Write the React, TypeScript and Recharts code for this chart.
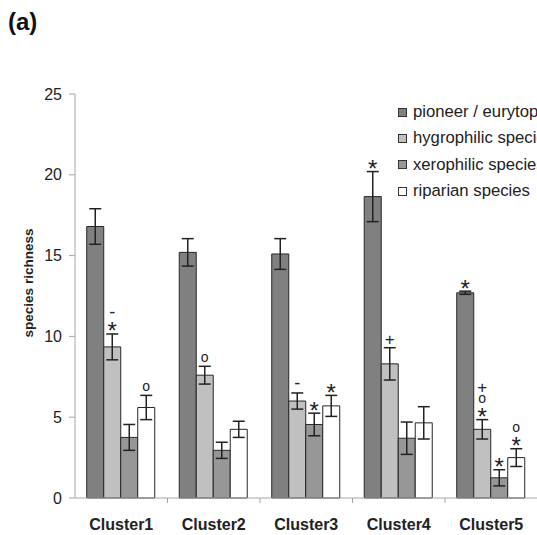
import React from 'react';
import { BarChart, Bar, XAxis, YAxis, ErrorBar, LabelList, Legend } from 'recharts';

const categories = ['Cluster1', 'Cluster2', 'Cluster3', 'Cluster4', 'Cluster5'];
const seriesNames = ['pioneer / eurytopic species', 'hygrophilic species', 'xerophilic species', 'riparian species'];
const pioneer = [16.8, 15.2, 15.1, 18.65, 12.7];
const pioneerErr = [1.1, 0.85, 0.95, 1.55, 0.1];
const hygro = [9.35, 7.6, 6.0, 8.3, 4.25];
const hygroErr = [0.8, 0.55, 0.5, 1.0, 0.6];
const xero = [3.75, 2.95, 4.55, 3.7, 1.25];
const xeroErr = [0.8, 0.5, 0.7, 1.0, 0.5];
const riparian = [5.6, 4.25, 5.7, 4.65, 2.5];
const riparianErr = [0.75, 0.5, 0.65, 1.0, 0.55];
// significance marks, listed from bottom to top
const pioneerMarks = ['', '', '', '*', '*'];
const hygroMarks = ['*-', 'o', '-', '+', '*o+'];
const xeroMarks = ['', '', '*', '', '*'];
const riparianMarks = ['o', '', '*', '', '*o'];
const yTicks = [0, 5, 10, 15, 20, 25];

const FONT = '"Liberation Sans", Arial, sans-serif';
const colors = ['#808080', '#c0c0c0', '#979797', '#ffffff'];

const data = categories.map((c, i) => ({
  name: c,
  pioneer: pioneer[i], pioneerErr: pioneerErr[i], pioneerMark: pioneerMarks[i],
  hygro: hygro[i], hygroErr: hygroErr[i], hygroMark: hygroMarks[i],
  xero: xero[i], xeroErr: xeroErr[i], xeroMark: xeroMarks[i],
  riparian: riparian[i], riparianErr: riparianErr[i], riparianMark: riparianMarks[i],
}));

function Sym({ ch, cx, cy }: { ch: string; cx: number; cy: number }) {
  let fs = 16;
  let dy = 0;
  if (ch === '*') { fs = 24; dy = 14; }
  else if (ch === 'o') { fs = 14; dy = 3.8; }
  else if (ch === '+') { fs = 17; dy = 5.8; }
  else if (ch === '-') { fs = 18; dy = 4.8; }
  return (
    <text x={cx} y={cy + dy} textAnchor="middle" fontSize={fs} fontFamily={FONT} fill="#222">
      {ch}
    </text>
  );
}

const makeMarks = (vals: number[], errs: number[]) => (props: any) => {
  const { x, y, width, height, value, index } = props;
  if (!value) return null;
  const v = vals[index];
  const pxPerUnit = v ? Number(height) / v : 0;
  const errTop = Number(y) - errs[index] * pxPerUnit;
  const cx = Number(x) + Number(width) / 2;
  const chars = String(value).split('');
  return (
    <g>
      {chars.map((ch, k) => (
        <Sym key={k} ch={ch} cx={cx} cy={errTop - 8.5 - k * 12} />
      ))}
    </g>
  );
};

const XTick = (props: any) => {
  const { x, y, payload, index } = props;
  const half = payload && payload.offset ? payload.offset : 46.25;
  return (
    <g>
      {index < categories.length - 1 && (
        <line x1={x + half} x2={x + half} y1={y} y2={y + 5} stroke="#a6a6a6" />
      )}
      <text x={x} y={y + 32} textAnchor="middle" fontSize={16} fontWeight="bold" fontFamily={FONT} fill="#222">
        {payload.value}
      </text>
    </g>
  );
};

const LegendContent = () => (
  <div style={{ fontFamily: FONT, fontSize: 16.7, color: '#222', whiteSpace: 'nowrap' }}>
    {seriesNames.map((n, i) => (
      <div key={n} style={{ height: 26.4, lineHeight: '26.4px', display: 'flex', alignItems: 'center' }}>
        <span style={{ display: 'inline-block', width: 7, height: 7, background: colors[i], border: '1px solid #333', marginRight: 6 }} />
        <span>{n}</span>
      </div>
    ))}
  </div>
);

export default function App() {
  return (
    <div style={{ position: 'fixed', left: 0, top: 0, width: 537, height: 535, overflow: 'hidden', background: '#fff' }}>
      <BarChart
        width={600}
        height={535}
        data={data}
        margin={{ top: 94, right: 62.5, bottom: 7, left: 0 }}
        barCategoryGap="12.7%"
        barGap={0}
      >
        <XAxis
          dataKey="name"
          height={30}
          axisLine={{ stroke: '#a6a6a6' }}
          tickLine={false}
          tickSize={0}
          tickMargin={0}
          interval={0}
          tick={<XTick />}
        />
        <YAxis
          width={75}
          domain={[0, 25]}
          ticks={yTicks}
          interval={0}
          axisLine={{ stroke: '#a6a6a6' }}
          tickLine={{ stroke: '#a6a6a6' }}
          tickSize={6}
          tickMargin={7}
          tick={{ fill: '#222', fontSize: 16, fontFamily: FONT }}
        />
        <Legend
          layout="vertical"
          align="center"
          verticalAlign="middle"
          content={<LegendContent />}
          wrapperStyle={{ position: 'absolute', left: 398, top: 99, width: 300 }}
        />
        <Bar dataKey="pioneer" name={seriesNames[0]} fill={colors[0]} stroke="#262626" strokeWidth={1} isAnimationActive={false}>
          <ErrorBar dataKey="pioneerErr" width={6} stroke="#222" strokeWidth={1.5} />
          <LabelList dataKey="pioneerMark" content={makeMarks(pioneer, pioneerErr)} />
        </Bar>
        <Bar dataKey="hygro" name={seriesNames[1]} fill={colors[1]} stroke="#262626" strokeWidth={1} isAnimationActive={false}>
          <ErrorBar dataKey="hygroErr" width={6} stroke="#222" strokeWidth={1.5} />
          <LabelList dataKey="hygroMark" content={makeMarks(hygro, hygroErr)} />
        </Bar>
        <Bar dataKey="xero" name={seriesNames[2]} fill={colors[2]} stroke="#262626" strokeWidth={1} isAnimationActive={false}>
          <ErrorBar dataKey="xeroErr" width={6} stroke="#222" strokeWidth={1.5} />
          <LabelList dataKey="xeroMark" content={makeMarks(xero, xeroErr)} />
        </Bar>
        <Bar dataKey="riparian" name={seriesNames[3]} fill={colors[3]} stroke="#262626" strokeWidth={1} isAnimationActive={false}>
          <ErrorBar dataKey="riparianErr" width={6} stroke="#222" strokeWidth={1.5} />
          <LabelList dataKey="riparianMark" content={makeMarks(riparian, riparianErr)} />
        </Bar>
      </BarChart>
      <svg width={537} height={535} style={{ position: 'absolute', left: 0, top: 0, pointerEvents: 'none' }}>
        <text x={8} y={30} fontSize={24} fontWeight="bold" fontFamily={FONT} fill="#111">(a)</text>
        <text
          x={28}
          y={283}
          transform="rotate(-90 28 283)"
          textAnchor="middle"
          dominantBaseline="central"
          fontSize={13.5}
          fontWeight="bold"
          fontFamily={FONT}
          fill="#222"
        >
          species richness
        </text>
      </svg>
    </div>
  );
}
